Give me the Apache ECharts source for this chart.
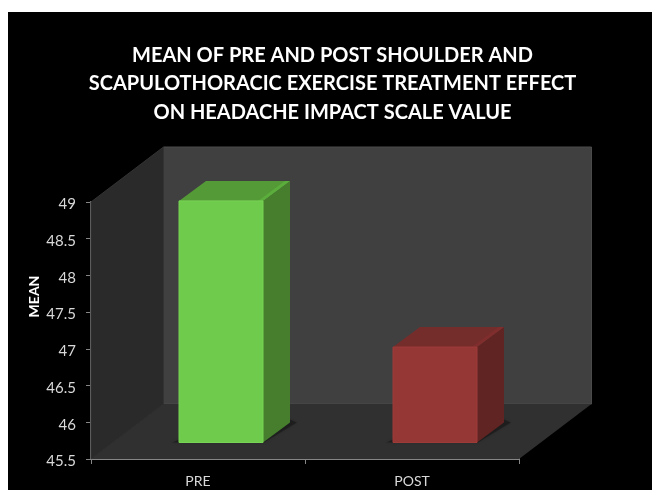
<!DOCTYPE html>
<html>
<head>
<meta charset="utf-8">
<style>
  html, body { margin: 0; padding: 0; background: #ffffff; width: 652px; height: 490px; overflow: hidden; }
  #chart { position: absolute; left: 8px; top: 12px; width: 644px; height: 478px; }
</style>
<script src="https://cdn.jsdelivr.net/npm/echarts@6/dist/echarts.min.js"></script>
</head>
<body>
<div id="chart"></div>
<script>
// Pre/post means for the headache impact scale
const categories = ['PRE', 'POST'];
const meanValues = [48.79, 46.8];
const yTicks = { min: 45.5, max: 49, interval: 0.5 };
const titleLines = [
  'MEAN OF PRE AND POST SHOULDER AND',
  'SCAPULOTHORACIC EXERCISE TREATMENT EFFECT',
  'ON HEADACHE IMPACT SCALE VALUE'
];
const barFaces = [
  { front: '#6fcb4b', top: '#549a37', side: '#467e2e', rim: '#78d455', edge: '#5cae3c' },
  { front: '#953735', top: '#752d2b', side: '#602422', rim: '#9d3b39', edge: '#802e2d' }
];

// Oblique projection of the depth axis, in pixels
const DEPTH_X = 72.5;
const DEPTH_Y = 55;
const BAR_WIDTH = 84;
const BAR_DEPTH_X = 27;
const BAR_DEPTH_Y = 20;
const BAR_SHIFT_X = 23;
const BAR_SHIFT_Y = 16.5;

function poly(points, fill, extra) {
  return {
    type: 'polygon',
    shape: { points: points },
    style: Object.assign({ fill: fill }, extra || {})
  };
}

// Side wall, back wall and floor, hung off the value axis corners
function renderRoom(params, api) {
  const bl = api.coord([0, yTicks.min]);
  const tl = api.coord([0, yTicks.max]);
  const band = api.size([1, 0])[0];
  const x0 = bl[0] - band / 2;
  const x1 = x0 + band * categories.length;
  const yb = bl[1];
  const yt = tl[1];
  return {
    type: 'group',
    children: [
      poly([[x0 + DEPTH_X, yt - DEPTH_Y], [x1 + DEPTH_X, yt - DEPTH_Y], [x1 + DEPTH_X, yb - DEPTH_Y], [x0 + DEPTH_X, yb - DEPTH_Y]],
        '#404040', { stroke: '#4a4a4a', lineWidth: 1 }),
      poly([[x0, yt], [x0 + DEPTH_X, yt - DEPTH_Y], [x0 + DEPTH_X, yb - DEPTH_Y], [x0, yb]],
        '#2a2a2a', { stroke: '#333333', lineWidth: 1 }),
      poly([[x0, yb], [x0 + DEPTH_X, yb - DEPTH_Y], [x1 + DEPTH_X, yb - DEPTH_Y], [x1, yb]],
        '#303030')
    ]
  };
}

// One extruded bar, standing partway through the depth of the floor
function renderBar(params, api) {
  const idx = api.value(0);
  const base = api.coord([idx, yTicks.min]);
  const top = api.coord([idx, api.value(1)]);
  const xa = base[0] + BAR_SHIFT_X - BAR_WIDTH / 2;
  const xb = xa + BAR_WIDTH;
  const yb = base[1] - BAR_SHIFT_Y;
  const yt = top[1] - BAR_SHIFT_Y;
  const dx = BAR_DEPTH_X;
  const dy = BAR_DEPTH_Y;
  const c = barFaces[idx];
  return {
    type: 'group',
    children: [
      poly([[xa - 7, yb], [xb + 1, yb], [xb + dx + 7, yb - dy], [xb + dx, yb - dy - 3], [xa, yb - 3]],
        'rgba(0,0,0,0.3)', { shadowBlur: 3, shadowColor: 'rgba(0,0,0,0.4)' }),
      poly([[xa, yt], [xa + dx, yt - dy], [xb + dx, yt - dy], [xb, yt]], c.top),
      poly([[xb, yt], [xb + dx, yt - dy], [xb + dx, yb - dy], [xb, yb]], c.side),
      poly([[xb, yt], [xb + dx, yt - dy], [xb + dx - 5, yt - dy], [xb - 5, yt]], c.edge),
      poly([[xa, yt], [xb, yt], [xb, yb], [xa, yb]], c.front, { stroke: c.rim, lineWidth: 1 })
    ]
  };
}

const chart = echarts.init(document.getElementById('chart'), null, { renderer: 'canvas' });
chart.setOption({
  animation: false,
  backgroundColor: '#000000',
  title: {
    text: titleLines.join('\n'),
    left: 319.5,
    top: 24,
    textAlign: 'center',
    textStyle: {
      color: '#ffffff',
      fontFamily: 'Lato',
      fontWeight: 'bold',
      fontSize: 20,
      lineHeight: 28.5
    }
  },
  grid: { left: 83, top: 190, width: 428, height: 257 },
  xAxis: {
    type: 'category',
    data: categories,
    axisLine: { lineStyle: { color: '#868686', width: 2 } },
    axisTick: { show: true, alignWithLabel: false, length: 5, lineStyle: { color: '#868686', width: 1 } },
    axisLabel: { color: '#d9d9d9', fontFamily: 'Lato', fontSize: 14, margin: 15 }
  },
  yAxis: {
    type: 'value',
    min: yTicks.min,
    max: yTicks.max,
    interval: yTicks.interval,
    name: 'MEAN',
    nameLocation: 'middle',
    nameGap: 50,
    nameMoveOverlap: false,
    nameTextStyle: { color: '#ffffff', fontFamily: 'Lato', fontWeight: 'bold', fontSize: 14, padding: [0, 0, 0, 68] },
    splitLine: { show: false },
    axisLine: { show: true, lineStyle: { color: '#868686', width: 2 } },
    axisTick: { show: true, length: 5, lineStyle: { color: '#868686', width: 1 } },
    axisLabel: { color: '#d9d9d9', fontFamily: 'Lato', fontSize: 15, margin: 15, lineHeight: 5, height: 5, verticalAlign: 'top' }
  },
  series: [
    {
      type: 'custom',
      name: 'room',
      renderItem: renderRoom,
      clip: false,
      z: 1,
      silent: true,
      data: [[0, yTicks.min]]
    },
    {
      type: 'custom',
      name: 'MEAN',
      renderItem: renderBar,
      clip: false,
      z: 2,
      encode: { x: 0, y: 1 },
      data: meanValues.map((v, i) => [i, v])
    }
  ]
});
</script>
</body>
</html>
